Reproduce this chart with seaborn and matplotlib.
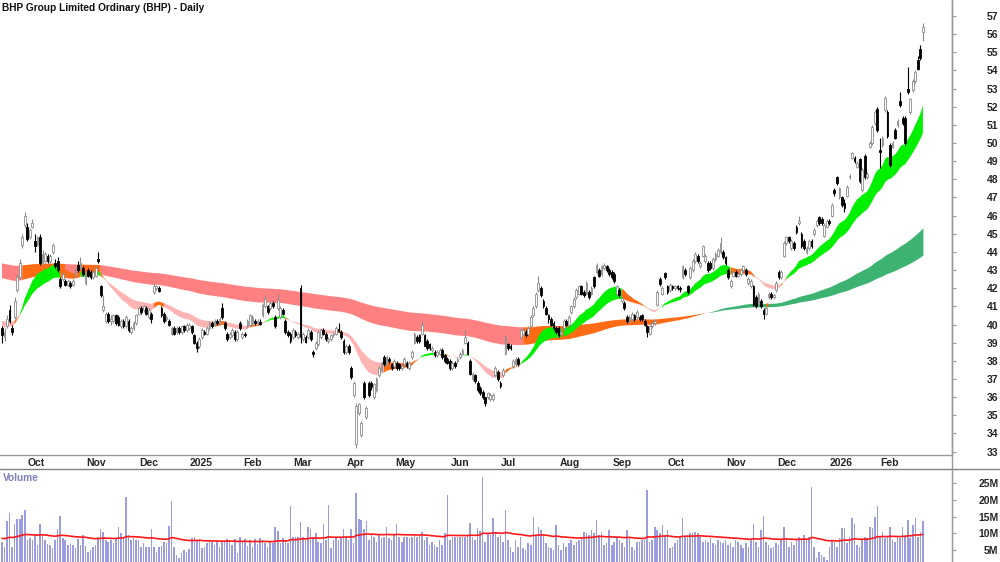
import numpy as np
import matplotlib
matplotlib.use("Agg")
import matplotlib.pyplot as plt
import matplotlib.transforms as mtrans
from matplotlib.lines import Line2D
import seaborn as sns

# daily candles (open, high, low, close), one list per month
sep24 = [(39.8, 39.9, 39.0, 39.4), (39.3, 39.8, 39.1, 39.6), (39.9, 40.5, 39.8, 40.3), (40.8, 41.1, 40.1, 40.2),
         (39.8, 40.0, 39.4, 39.6), (40.4, 41.5, 40.3, 41.3), (41.9, 42.8, 41.8, 42.6), (42.6, 43.6, 42.5, 43.4),
         (44.4, 45.0, 44.2, 44.8), (45.5, 46.2, 45.3, 46.0)]
oct24 = [(45.4, 45.6, 44.6, 44.7), (44.8, 45.3, 44.7, 45.2), (45.4, 45.8, 45.3, 45.6), (44.6, 45.0, 44.0, 44.3),
         (44.4, 44.9, 44.3, 44.8), (44.8, 45.0, 43.3, 43.4), (43.4, 44.1, 43.3, 43.9), (43.5, 44.0, 43.4, 43.9),
         (43.8, 43.9, 43.4, 43.5), (43.5, 43.9, 43.4, 43.8), (44.0, 44.5, 43.9, 44.4), (43.4, 43.6, 43.1, 43.2),
         (43.5, 43.7, 42.9, 43.0), (42.5, 42.6, 42.0, 42.1), (42.5, 42.9, 42.4, 42.8), (42.4, 42.5, 42.1, 42.2),
         (42.2, 42.5, 42.1, 42.4), (42.3, 42.4, 42.0, 42.1), (42.2, 42.5, 42.1, 42.4), (42.7, 43.1, 42.6, 43.0),
         (43.3, 43.5, 42.9, 43.0), (43.1, 43.7, 43.0, 43.4), (43.1, 43.2, 42.7, 42.8)]
nov24 = [(42.3, 42.9, 42.2, 42.8), (43.0, 43.1, 42.6, 42.7), (42.9, 43.0, 42.5, 42.6), (42.6, 43.0, 42.5, 42.9),
         (42.7, 43.2, 42.6, 43.1), (43.6, 44.0, 43.4, 43.5), (42.1, 42.2, 41.5, 41.6), (40.8, 41.6, 40.7, 41.0),
         (40.2, 40.7, 40.1, 40.6), (40.6, 40.7, 40.1, 40.2), (40.2, 40.5, 40.0, 40.3), (40.2, 40.6, 40.1, 40.5),
         (40.5, 40.6, 40.0, 40.1), (40.4, 40.5, 39.9, 40.0), (39.9, 40.3, 39.8, 40.2), (40.2, 40.3, 39.8, 39.9),
         (39.9, 40.5, 39.8, 40.4), (40.2, 40.3, 39.6, 39.7), (39.6, 39.9, 39.5, 39.8), (39.8, 40.2, 39.7, 40.1),
         (40.1, 40.6, 40.0, 40.5)]
dec24 = [(40.6, 41.0, 40.5, 40.9), (40.9, 41.0, 40.6, 40.7), (40.8, 41.1, 40.7, 41.0), (40.9, 41.0, 40.5, 40.6),
         (40.4, 40.9, 40.3, 40.8), (40.6, 40.7, 40.1, 40.3), (41.8, 42.3, 41.7, 42.1), (42.0, 42.2, 41.9, 42.1),
         (42.0, 42.1, 41.8, 41.85), (40.9, 41.0, 40.4, 40.5), (40.6, 40.7, 40.1, 40.2), (40.3, 40.5, 40.2, 40.4),
         (40.2, 40.3, 39.9, 40.0), (39.5, 39.9, 39.4, 39.8), (39.8, 39.9, 39.4, 39.5), (39.6, 39.9, 39.5, 39.8),
         (39.8, 39.9, 39.5, 39.6), (39.6, 40.0, 39.5, 39.9), (39.9, 40.0, 39.6, 39.7), (39.7, 40.1, 39.6, 40.0)]
jan25 = [(39.8, 40.1, 39.7, 40.0), (39.9, 40.0, 39.5, 39.6), (39.4, 39.5, 38.9, 39.0), (39.0, 39.1, 38.5, 38.7),
         (38.8, 39.3, 38.7, 39.2), (39.3, 39.8, 39.2, 39.7), (39.6, 39.7, 39.4, 39.5), (39.5, 39.9, 39.4, 39.8),
         (39.8, 40.2, 39.7, 40.1), (40.1, 40.2, 39.8, 39.9), (40.0, 40.3, 39.9, 40.2), (40.2, 40.3, 40.0, 40.1),
         (40.1, 40.4, 40.0, 40.3), (40.9, 41.2, 40.3, 40.4), (40.1, 40.2, 39.7, 39.8), (39.5, 39.6, 39.1, 39.2),
         (39.3, 39.6, 39.2, 39.5), (39.4, 39.8, 39.3, 39.7), (39.6, 39.7, 39.1, 39.2), (39.2, 39.7, 39.1, 39.6),
         (40.1, 40.2, 39.7, 39.8)]
feb25 = [(39.3, 39.6, 39.2, 39.5), (39.5, 39.6, 39.3, 39.4), (39.9, 40.3, 39.8, 40.2), (40.0, 40.6, 39.9, 40.5),
         (40.1, 40.5, 40.0, 40.4), (40.2, 40.3, 40.0, 40.1), (40.1, 40.3, 40.0, 40.2), (40.15, 40.3, 40.0, 40.05),
         (40.5, 41.2, 40.4, 41.1), (41.0, 41.6, 40.9, 41.4), (41.0, 41.1, 40.6, 40.7), (40.9, 41.3, 40.8, 41.2),
         (41.2, 41.3, 40.9, 41.0), (40.4, 40.5, 39.8, 39.9), (40.9, 41.7, 40.8, 41.35), (40.4, 41.0, 40.3, 40.9),
         (40.8, 40.9, 40.5, 40.6), (40.2, 40.3, 39.5, 39.6), (39.6, 39.7, 39.3, 39.4), (39.5, 39.6, 39.0, 39.1)]
mar25 = [(39.3, 39.8, 39.2, 39.7), (39.6, 39.7, 39.3, 39.4), (39.3, 39.6, 39.2, 39.5), (42.0, 42.2, 39.0, 39.3),
         (39.2, 39.6, 39.1, 39.5), (39.3, 39.4, 39.0, 39.05), (39.3, 39.8, 39.2, 39.7), (39.6, 39.7, 39.1, 39.2),
         (38.5, 38.6, 38.2, 38.35), (38.7, 39.1, 38.6, 39.0), (38.9, 39.7, 38.8, 39.6), (39.3, 39.8, 39.2, 39.7),
         (39.7, 39.8, 39.4, 39.5), (39.5, 39.6, 39.1, 39.2), (39.1, 39.3, 39.0, 39.2), (39.2, 39.5, 39.1, 39.4),
         (39.4, 39.6, 39.3, 39.5), (39.5, 39.9, 39.4, 39.8), (39.75, 40.1, 39.6, 39.65), (39.6, 39.7, 39.2, 39.3),
         (39.1, 39.2, 38.4, 38.5)]
apr25 = [(38.5, 38.9, 38.4, 38.8), (38.8, 38.9, 38.4, 38.5), (37.6, 37.7, 37.0, 37.1), (36.1, 36.9, 36.0, 36.8),
         (33.4, 35.7, 33.2, 35.5), (35.1, 35.7, 35.0, 35.6), (33.9, 34.7, 33.8, 34.6), (36.8, 36.9, 35.9, 36.0),
         (34.9, 35.5, 34.8, 35.4), (36.8, 36.9, 36.0, 36.1), (36.8, 36.9, 36.4, 36.55), (36.0, 36.8, 35.9, 36.7),
         (36.4, 37.1, 36.3, 37.0), (37.2, 37.7, 37.1, 37.6), (37.5, 38.0, 37.4, 37.9), (38.2, 38.3, 37.7, 37.8),
         (37.8, 38.3, 37.7, 38.2), (38.1, 38.2, 37.9, 38.0), (37.8, 37.9, 37.5, 37.6)]
may25 = [(37.7, 38.1, 37.6, 38.0), (37.9, 38.0, 37.5, 37.6), (37.8, 37.9, 37.5, 37.6), (37.6, 37.8, 37.5, 37.7),
         (37.8, 38.2, 37.7, 38.1), (37.9, 38.0, 37.6, 37.7), (37.6, 38.0, 37.5, 37.9), (38.2, 38.6, 38.1, 38.5),
         (39.0, 39.6, 38.9, 39.5), (39.3, 39.4, 39.0, 39.1), (39.4, 39.5, 39.0, 39.1), (39.5, 40.2, 39.4, 40.0),
         (39.4, 39.5, 38.8, 38.8), (39.1, 39.2, 38.6, 38.7), (38.9, 39.0, 38.6, 38.7), (38.6, 38.8, 38.5, 38.7),
         (38.5, 38.6, 38.2, 38.3), (38.3, 38.6, 38.2, 38.5), (38.4, 38.7, 38.3, 38.6), (38.6, 38.7, 38.1, 38.2),
         (38.3, 38.4, 37.9, 38.0), (38.1, 38.2, 37.8, 37.9)]
jun25 = [(38.0, 38.1, 37.5, 37.6), (37.6, 38.0, 37.5, 37.9), (37.9, 38.0, 37.6, 37.7), (38.0, 38.2, 37.9, 38.1),
         (38.2, 38.5, 38.1, 38.4), (38.4, 38.7, 38.3, 38.6), (39.0, 39.7, 38.9, 39.3), (39.0, 39.1, 38.3, 38.4),
         (38.0, 38.1, 37.2, 37.3), (37.0, 37.4, 36.9, 37.3), (37.2, 37.3, 36.8, 36.9), (36.8, 36.9, 36.3, 36.4),
         (36.5, 36.6, 36.1, 36.2), (36.3, 36.4, 35.9, 36.0), (36.0, 36.0, 35.5, 35.7), (36.0, 36.3, 35.9, 36.2),
         (35.9, 36.2, 35.8, 36.1), (35.9, 36.2, 35.8, 36.1), (37.2, 37.7, 37.1, 37.6), (37.4, 37.5, 36.9, 37.0)]
jul25 = [(36.8, 36.9, 36.5, 36.6), (37.2, 37.6, 37.1, 37.5), (38.4, 39.4, 38.3, 39.3), (38.9, 39.0, 38.6, 38.7),
         (38.8, 38.9, 38.6, 38.7), (37.7, 38.1, 37.6, 38.0), (37.8, 38.2, 37.7, 38.1), (38.1, 38.2, 37.7, 37.8),
         (39.3, 39.8, 39.2, 39.7), (39.5, 39.8, 39.4, 39.7), (39.6, 39.7, 39.3, 39.4), (39.5, 39.9, 39.4, 39.8),
         (39.9, 40.5, 39.8, 40.4), (40.5, 41.0, 40.4, 40.9), (41.0, 41.8, 40.9, 41.7), (41.9, 42.7, 41.8, 42.3),
         (42.0, 42.1, 41.5, 41.6), (41.3, 41.4, 40.9, 41.0), (40.9, 41.0, 40.5, 40.6), (40.5, 40.6, 40.1, 40.3),
         (40.3, 40.4, 39.9, 40.0), (40.1, 40.2, 39.7, 39.8), (39.8, 39.9, 39.5, 39.6)]
aug25 = [(39.8, 39.9, 39.3, 39.4), (39.5, 39.8, 39.4, 39.6), (39.8, 40.3, 39.7, 40.2), (40.2, 40.3, 39.9, 40.0),
         (40.0, 40.5, 39.9, 40.4), (40.7, 41.1, 40.6, 41.0), (41.0, 41.5, 40.9, 41.4), (41.5, 42.0, 41.4, 41.9),
         (41.7, 42.2, 41.6, 42.1), (42.1, 42.2, 41.6, 41.7), (41.8, 41.9, 41.5, 41.6), (41.7, 42.4, 41.6, 42.3),
         (41.8, 41.9, 41.4, 41.5), (41.7, 42.1, 41.6, 42.0), (42.6, 42.7, 42.0, 42.1), (42.9, 43.4, 42.8, 43.3),
         (43.0, 43.1, 42.6, 42.7), (42.8, 43.3, 42.7, 43.2), (43.1, 43.4, 43.0, 43.3), (43.2, 43.3, 42.9, 43.0),
         (43.0, 43.1, 42.7, 42.8)]
sep25 = [(42.9, 43.0, 42.5, 42.6), (42.8, 42.9, 42.3, 42.4), (41.7, 42.2, 41.6, 42.1), (41.9, 42.0, 41.5, 41.6),
         (41.3, 41.5, 41.2, 41.45), (41.2, 41.3, 40.8, 40.9), (40.4, 40.5, 40.1, 40.2), (40.2, 40.5, 40.1, 40.4),
         (40.3, 40.7, 40.2, 40.6), (40.5, 40.6, 40.2, 40.3), (40.4, 40.8, 40.3, 40.7), (40.4, 40.5, 40.2, 40.3),
         (40.5, 40.6, 40.2, 40.3), (40.2, 40.3, 39.9, 40.0), (39.9, 40.0, 39.3, 39.6), (39.5, 40.0, 39.4, 39.9),
         (39.9, 40.2, 39.8, 40.1), (40.1, 40.3, 40.0, 40.2), (41.1, 41.9, 41.0, 41.8), (42.5, 42.6, 42.1, 42.25),
         (41.7, 42.1, 41.6, 42.0), (42.85, 42.9, 42.5, 42.6)]
oct25 = [(42.1, 42.2, 41.7, 41.8), (41.9, 42.3, 41.8, 42.2), (42.1, 42.2, 41.9, 42.0), (42.0, 42.2, 41.9, 42.1),
         (42.1, 42.2, 41.9, 42.0), (42.0, 42.1, 41.8, 41.95), (42.6, 43.3, 42.5, 43.2), (43.0, 43.1, 42.7, 42.8),
         (42.1, 42.2, 41.7, 41.8), (42.6, 43.2, 42.5, 43.1), (43.0, 43.6, 42.9, 43.5), (43.5, 44.0, 43.4, 43.9),
         (43.8, 43.9, 43.4, 43.5), (43.2, 43.5, 43.1, 43.4), (43.8, 44.4, 43.7, 44.3), (43.5, 43.9, 43.4, 43.8),
         (43.4, 43.5, 42.9, 43.0), (43.4, 43.5, 43.0, 43.1), (43.1, 43.7, 43.0, 43.6), (43.6, 44.0, 43.5, 43.9),
         (43.8, 44.2, 43.7, 44.1), (44.0, 44.8, 43.9, 44.5), (44.0, 44.1, 43.6, 43.7)]
nov25 = [(43.7, 43.8, 43.3, 43.4), (43.0, 43.1, 42.5, 42.6), (42.1, 42.5, 42.0, 42.4), (42.7, 43.0, 42.6, 42.9),
         (42.9, 43.0, 42.6, 42.7), (42.7, 42.9, 42.6, 42.8), (42.8, 43.1, 42.7, 43.0), (43.0, 43.3, 42.9, 43.2),
         (43.0, 43.1, 42.7, 42.8), (42.3, 42.6, 42.2, 42.5), (42.1, 42.5, 42.0, 42.4), (42.1, 42.2, 41.0, 41.1),
         (41.5, 41.6, 40.9, 41.0), (41.2, 41.8, 41.1, 41.7), (41.3, 41.4, 40.9, 41.0), (40.8, 40.9, 40.3, 40.6),
         (40.6, 41.0, 40.5, 40.9), (41.5, 41.8, 41.4, 41.7), (41.7, 41.8, 41.4, 41.5), (41.5, 41.7, 41.4, 41.6)]
dec25 = [(41.9, 42.4, 41.8, 42.3), (42.9, 43.0, 42.5, 42.6), (42.6, 43.0, 42.5, 42.9), (43.8, 44.6, 43.7, 44.5),
         (44.5, 44.9, 44.4, 44.8), (44.8, 44.9, 44.5, 44.6), (44.2, 44.7, 44.1, 44.6), (44.5, 44.6, 44.1, 44.2),
         (45.4, 45.5, 45.0, 45.1), (45.6, 46.0, 45.5, 45.7), (45.0, 45.1, 44.2, 44.3), (44.6, 44.7, 44.1, 44.2),
         (44.0, 44.3, 43.9, 44.2), (44.2, 44.7, 44.1, 44.6), (44.6, 44.7, 44.2, 44.3), (45.0, 45.3, 44.9, 45.2),
         (45.5, 45.8, 45.4, 45.7), (45.9, 46.0, 45.5, 45.6), (45.8, 45.9, 45.5, 45.6), (44.9, 45.6, 44.8, 45.5),
         (45.4, 45.8, 45.3, 45.7)]
jan26 = [(45.7, 45.8, 45.5, 45.6), (46.0, 46.7, 45.9, 46.6), (47.4, 47.5, 47.1, 47.25), (48.1, 48.2, 47.7, 47.8),
         (47.0, 47.6, 46.9, 47.5), (47.0, 47.1, 46.5, 46.6), (46.7, 46.9, 46.2, 46.4), (47.1, 47.7, 47.0, 47.6),
         (48.1, 48.3, 48.0, 48.2), (49.2, 49.5, 49.1, 49.45), (49.2, 49.3, 48.9, 49.0), (48.7, 49.0, 48.6, 48.9),
         (49.1, 49.2, 47.8, 47.9), (47.4, 48.6, 47.3, 48.5), (49.3, 49.4, 48.0, 48.1), (48.1, 48.4, 48.0, 48.3),
         (49.8, 50.1, 49.7, 50.0), (50.0, 51.0, 49.9, 50.9), (51.1, 51.8, 51.0, 51.7), (51.9, 52.0, 50.6, 50.7)]
feb26 = [(49.6, 50.3, 48.6, 49.5), (49.9, 50.4, 49.8, 50.3), (51.8, 52.6, 51.7, 52.5), (51.7, 51.8, 50.3, 50.4),
         (49.9, 50.0, 48.7, 48.8), (49.8, 50.1, 49.7, 50.0), (50.7, 50.8, 50.2, 50.3), (51.0, 51.3, 50.9, 51.2),
         (52.3, 52.8, 52.0, 52.1), (51.4, 51.5, 51.0, 51.1), (51.4, 51.5, 49.9, 50.0), (53.0, 54.2, 52.7, 52.8),
         (51.7, 52.5, 51.6, 52.4), (52.9, 53.5, 52.8, 53.4), (53.4, 54.0, 53.3, 53.9), (54.6, 54.8, 54.0, 54.1),
         (55.2, 55.4, 54.6, 54.7), (56.1, 56.6, 55.6, 56.4)]

# daily volume in millions, one list per month
vol_sep24 = [7.5, 6.0, 13.6, 15.9, 6.0, 12.9, 14.2, 14.4, 15.4, 16.9]
vol_oct24 = [8.0, 8.5, 8.0, 9.5, 6.5, 12.9, 9.5, 8.0, 6.8, 6.5, 5.5, 8.0, 11.4, 15.1, 8.5, 8.0, 6.5, 6.8, 6.5, 5.5,
             8.2, 6.5, 9.5]
vol_nov24 = [6.2, 4.5, 5.0, 6.0, 6.5, 9.0, 11.2, 10.4, 8.0, 7.5, 8.0, 7.0, 8.5, 11.9, 10.0, 8.5, 20.7, 9.5, 8.0, 8.5,
             8.0]
vol_dec24 = [8.0, 6.0, 7.0, 6.0, 5.8, 11.4, 6.0, 4.5, 5.8, 6.2, 7.5, 7.0, 12.1, 19.6, 6.0, 3.5, 2.5, 4.0, 5.0, 4.5]
vol_jan25 = [5.2, 8.5, 8.8, 8.0, 8.2, 5.5, 6.0, 7.0, 8.0, 7.5, 6.5, 8.0, 6.0, 7.5, 8.0, 8.2, 8.0, 6.5, 8.2, 4.0, 8.8]
vol_feb25 = [7.8, 8.2, 6.2, 8.0, 6.0, 8.2, 6.8, 8.5, 8.0, 7.0, 6.0, 7.5, 7.0, 11.9, 10.7, 7.0, 8.5, 8.0, 7.0, 18.1]
vol_mar25 = [8.8, 9.0, 8.8, 13.4, 9.0, 8.0, 11.9, 11.4, 9.0, 10.0, 7.5, 7.0, 12.9, 8.0, 18.4, 5.5, 8.0, 9.0, 8.0,
             9.0, 11.2]
vol_apr25 = [9.0, 8.0, 11.2, 7.0, 21.9, 14.2, 13.9, 11.4, 13.6, 8.0, 9.5, 9.0, 7.5, 9.5, 8.5, 9.0, 11.9, 8.5, 8.0]
vol_may25 = [9.5, 12.7, 9.0, 7.5, 9.0, 9.0, 8.5, 9.0, 9.5, 9.0, 9.5, 10.5, 8.0, 9.0, 6.5, 7.5, 6.5, 6.0, 8.0, 6.5,
             10.0, 21.4]
vol_jun25 = [8.0, 9.0, 9.0, 9.0, 9.0, 9.0, 9.0, 9.5, 13.0, 9.0, 8.0, 11.7, 10.8, 26.8, 7.5, 10.0, 9.5, 14.5, 10.5, 9.0]
vol_jul25 = [9.5, 7.5, 17.0, 8.0, 6.0, 4.5, 8.0, 6.0, 9.0, 5.5, 5.0, 7.0, 6.5, 15.0, 9.5, 12.0, 11.0, 9.5, 7.0, 6.0,
             5.5, 5.0, 12.4]
vol_aug25 = [6.5, 5.0, 7.0, 6.0, 7.0, 8.0, 6.5, 7.5, 8.0, 9.0, 10.5, 10.0, 9.5, 11.0, 10.0, 14.0, 9.5, 10.5, 6.5, 7.0,
             11.0]
vol_sep25 = [6.5, 7.5, 9.0, 8.0, 7.0, 6.0, 11.0, 8.5, 6.0, 5.0, 7.5, 7.5, 8.0, 8.0, 22.9, 7.5, 8.0, 12.0, 11.0, 10.0,
             12.5, 9.5]
vol_oct25 = [11.0, 5.5, 6.0, 7.0, 8.0, 9.0, 14.5, 9.0, 9.5, 10.0, 10.0, 10.5, 10.0, 9.0, 7.5, 8.0, 7.5, 8.5, 7.0, 6.5,
             8.0, 7.5, 7.0]
vol_nov25 = [8.0, 6.5, 7.0, 6.0, 8.0, 7.5, 6.5, 5.5, 7.0, 6.0, 8.0, 12.7, 7.5, 6.0, 11.0, 15.1, 7.5, 6.5, 5.5, 6.0]
vol_dec25 = [7.0, 6.5, 8.0, 12.0, 8.5, 6.0, 7.5, 6.5, 8.0, 9.0, 8.5, 9.5, 8.0, 9.0, 23.8, 6.0, 2.5, 4.5, 3.5, 3.0, 2.0]
vol_jan26 = [6.0, 8.0, 7.5, 6.0, 8.5, 11.5, 11.5, 7.0, 9.0, 14.5, 12.7, 6.5, 6.0, 8.0, 9.0, 8.5, 12.0, 11.6, 14.8, 18.0]
vol_feb26 = [9.0, 10.5, 8.5, 9.0, 11.9, 8.0, 7.5, 9.0, 8.5, 11.9, 9.0, 14.0, 8.5, 12.5, 14.5, 9.0, 10.4, 13.6]

month_labels = ["Oct", "Nov", "Dec", "2025", "Feb", "Mar", "Apr", "May", "Jun", "Jul", "Aug", "Sep",
                "Oct", "Nov", "Dec", "2026", "Feb"]

# ribbon periods and their starting levels read at the left edge
short_periods = [20, 35]
short_seeds = [39.9, 40.25]
long_periods = [150, 250]
long_seeds = [42.6, 43.4]
vol_ma_seed = 8.5

months = [sep24, oct24, nov24, dec24, jan25, feb25, mar25, apr25, may25, jun25, jul25, aug25, sep25, oct25,
          nov25, dec25, jan26, feb26]
vols = [vol_sep24, vol_oct24, vol_nov24, vol_dec24, vol_jan25, vol_feb25, vol_mar25, vol_apr25, vol_may25,
        vol_jun25, vol_jul25, vol_aug25, vol_sep25, vol_oct25, vol_nov25, vol_dec25, vol_jan26, vol_feb26]

ohlc = np.array([row for m in months for row in m])
opens, highs, lows, closes = ohlc.T
volume = np.concatenate([np.array(v, dtype=float) for v in vols])
n = len(closes)
idx = np.arange(n)
month_start = np.cumsum([len(m) for m in months])[:-1]


def ema(values, period, seed):
    out = np.empty(len(values))
    alpha = 2.0 / (period + 1)
    prev = seed
    for i, v in enumerate(values):
        prev = prev + alpha * (v - prev)
        out[i] = prev
    return out


def band_state(price, fast, slow):
    bull = (price > fast) & (fast > slow)
    bear = (price < fast) & (fast < slow)
    return np.where(bull, "bull", np.where(bear, "bear", "mid"))


def draw_band(ax, fast, slow, state, colours):
    lo = np.minimum(fast, slow)
    hi = np.maximum(fast, slow)
    for key, col in colours.items():
        m = state == key
        m2 = m.copy()
        m2[1:] |= m[:-1]
        ax.fill_between(idx, lo, hi, where=m2, color=col, lw=0, zorder=1)


price_smooth = ema(closes, 5, closes[0])
s_fast = ema(closes, short_periods[0], short_seeds[0])
s_slow = ema(closes, short_periods[1], short_seeds[1])
l_fast = ema(closes, long_periods[0], long_seeds[0])
l_slow = ema(closes, long_periods[1], long_seeds[1])
vol_ma = ema(volume, 60, vol_ma_seed)

sns.set_style("white")
plt.rcParams["font.family"] = ["Liberation Sans", "DejaVu Sans"]

W, H = 1000, 562
fig = plt.figure(figsize=(W / 100, H / 100), dpi=100)
ax = fig.add_axes([0, 1 - 455 / H, 952 / W, 455 / H])
axv = fig.add_axes([0, 0, 952 / W, 93 / H])

xlim = (-0.8, 375.5)
grey = "#9a9a9a"

# ribbons
draw_band(ax, l_fast, l_slow, band_state(price_smooth, l_fast, l_slow),
          {"bull": "#3cb371", "bear": "#ff8080", "mid": "#ff6a14"})
draw_band(ax, s_fast, s_slow, band_state(price_smooth, s_fast, s_slow),
          {"bull": "#00f000", "bear": "#ffb4b4", "mid": "#ff6a14"})

# candles
up = closes >= opens
face = np.where(up, "white", "black")
edge = np.where(up, "#8c8c8c", "black")
ax.vlines(idx, lows, highs, colors=edge, lw=0.8, zorder=3)
body = np.maximum(np.abs(closes - opens), 0.04)
ax.bar(idx, body, bottom=np.minimum(opens, closes), width=0.7, color=face, edgecolor=edge, lw=0.6, zorder=4)

ax.set_xlim(*xlim)
ax.set_ylim(32.81, 57.88)
for s in ["left", "top"]:
    ax.spines[s].set_visible(False)
for s in ["right", "bottom"]:
    ax.spines[s].set_color(grey)
    ax.spines[s].set_linewidth(1)

ax.yaxis.tick_right()
ax.set_yticks(range(33, 58))
ax.tick_params(axis="y", direction="out", length=3, width=0.8, color=grey, labelsize=7.5, pad=30.5)
plt.setp(ax.get_yticklabels(), ha="right", fontweight="bold")

ax.set_xticks(month_start - 0.5)
ax.set_xticklabels(month_labels)
ax.tick_params(axis="x", direction="out", length=2, width=0.8, color=grey, labelsize=7.5, pad=0.5)
shift = mtrans.ScaledTranslation(2 / 100, 0, fig.dpi_scale_trans)
for lbl in ax.get_xticklabels():
    lbl.set_ha("left")
    lbl.set_fontweight("bold")
    lbl.set_transform(lbl.get_transform() + shift)

ax.text(2 / 952, 1 - 8 / 455, "BHP Group Limited Ordinary (BHP) - Daily", transform=ax.transAxes,
        ha="left", va="center", fontsize=7.3, fontweight="bold", color="#111111")

# volume
axv.bar(idx, volume, width=0.62, color="#9c9ce0", edgecolor="none", zorder=2)
sns.lineplot(x=idx, y=vol_ma, ax=axv, color="#ff1a1a", lw=1.2, zorder=3)
axv.set_xlim(*xlim)
axv.set_ylim(1.4, 29.2)
axv.set_xticks([])
for s in ["left", "top", "bottom"]:
    axv.spines[s].set_visible(False)
axv.spines["right"].set_color(grey)
axv.yaxis.tick_right()
axv.set_yticks([5, 10, 15, 20, 25])
axv.set_yticklabels([f"{v}M" for v in [5, 10, 15, 20, 25]])
axv.tick_params(axis="y", direction="out", length=3, width=0.8, color=grey, labelsize=7.5, pad=30.5)
plt.setp(axv.get_yticklabels(), ha="right", fontweight="bold")
axv.set_ylabel("")
axv.text(3 / 952, 1 - 9 / 93, "Volume", transform=axv.transAxes, ha="left", va="center",
         fontsize=7.3, fontweight="bold", color="#8080c0")

fig.add_artist(Line2D([0, 1], [93.5 / H, 93.5 / H], color="#808080", lw=1))
fig.add_artist(Line2D([952 / W, 952 / W], [0, 1], color=grey, lw=1))

fig.savefig("out.png", dpi=100)
